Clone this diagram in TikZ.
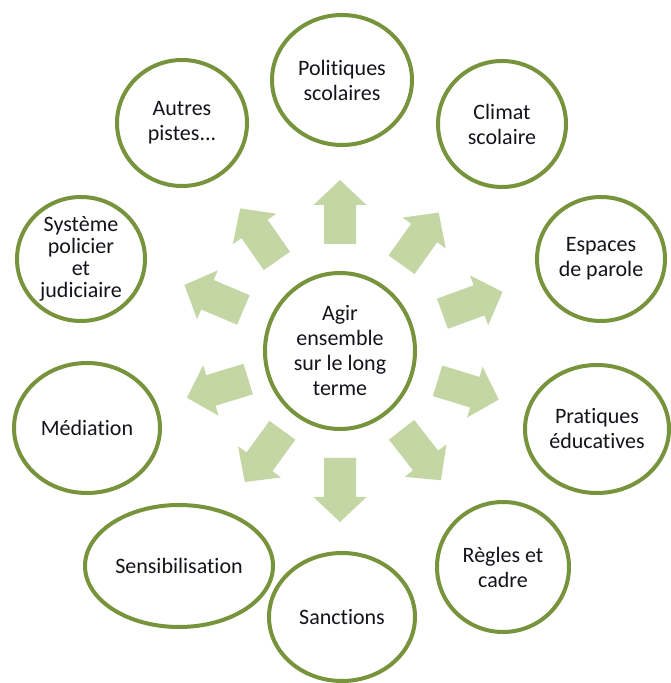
\documentclass[tikz,border=0pt]{standalone}
\usepackage{fontspec}
\setmainfont[Ligatures={NoCommon}]{Carlito}
\usetikzlibrary{shapes.geometric}
\definecolor{ringgreen}{RGB}{119,147,60}
\definecolor{arrowgreen}{RGB}{196,214,164}
\definecolor{txt}{RGB}{20,20,26}
\begin{document}
\begin{tikzpicture}[x=1pt,y=1pt,
  ring/.style={ellipse, draw=ringgreen, line width=4pt, fill=white, inner sep=0pt},
  lbl/.style={align=center, text=txt, inner sep=0pt, font=\fontsize{22}{25}\selectfont},
  blockarrow/.style={fill=arrowgreen}]
\useasboundingbox[fill=white] (0,0) rectangle (670,683);
\coordinate (c) at (340,332);
\foreach \a/\d in {90/139, 54.5/138, 20/141, -17/134, -52/132, -90/139, 234/130, 197/128, 157/137, 125/142} {
  \fill[blockarrow, shift={(c)}, rotate=\a]
    (\d-32,-16) -- (\d+7,-16) -- (\d+7,-26.5) -- (\d+32,0) -- (\d+7,26.5) -- (\d+7,16) -- (\d-32,16) -- cycle;
}
% rings
\node[ring, minimum width=150pt, minimum height=156pt] (ctr) at (340,332) {};
\node[ring, minimum width=140pt, minimum height=130pt] (pol) at (342,603) {};
\node[ring, minimum width=128pt, minimum height=126pt] (cli) at (502,559) {};
\node[ring, minimum width=128pt, minimum height=124pt] (esp) at (601,424) {};
\node[ring, minimum width=144pt, minimum height=128pt] (pra) at (597,254) {};
\node[ring, minimum width=132pt, minimum height=130pt] (reg) at (503,116) {};
\node[ring, minimum width=146pt, minimum height=128pt] (san) at (342,66) {};
\node[ring, minimum width=188pt, minimum height=122pt] (sen) at (179,117) {};
\node[ring, minimum width=146pt, minimum height=130pt] (med) at (87,255) {};
\node[ring, minimum width=128pt, minimum height=124pt] (sys) at (81,424) {};
\node[ring, minimum width=130pt, minimum height=126pt] (aut) at (182,560) {};
% labels
\node[lbl] (ctr-t) at (ctr) {Agir\\ensemble\\sur le long\\terme};
\node[lbl] (pol-t) at (pol) {Politiques\\scolaires};
\node[lbl] (cli-t) at (cli) {Climat\\scolaire};
\node[lbl] (esp-t) at (esp) {Espaces\\de parole};
\node[lbl] (pra-t) at (pra) {Pratiques\\éducatives};
\node[lbl] (reg-t) at (reg) {Règles et\\cadre};
\node[lbl] (san-t) at (san) {Sanctions};
\node[lbl] (sen-t) at (sen) {Sensibilisation};
\node[lbl] (med-t) at (med) {Médiation};
\node[lbl, font=\fontsize{22}{22}\selectfont] (sys-t) at (sys) {Système\\policier\\et\\judiciaire};
\node[lbl] (aut-t) at (aut) {Autres\\pistes.{}.{}.};
\end{tikzpicture}
\end{document}
